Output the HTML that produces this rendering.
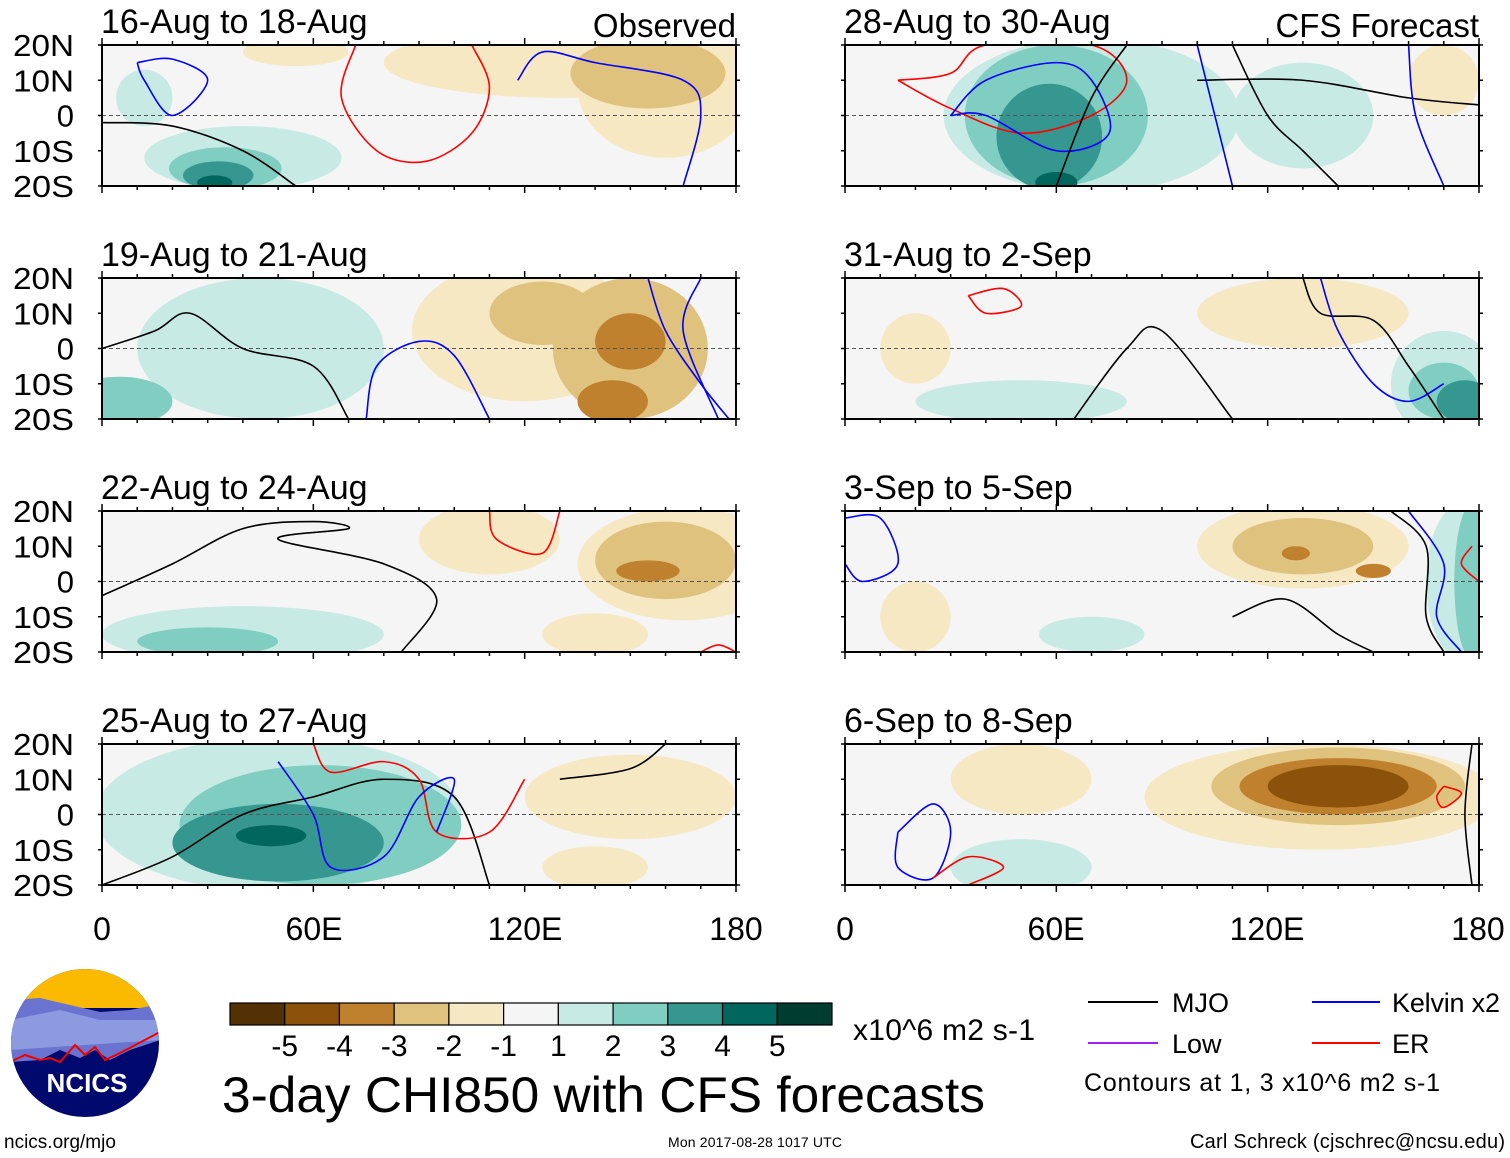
<!DOCTYPE html>
<html><head><meta charset="utf-8">
<style>
body{margin:0;background:#fff;}
svg{display:block;font-family:"Liberation Sans",Arial,sans-serif;}
</style></head>
<body>
<svg id="chart" width="1510" height="1158" viewBox="0 0 1510 1158" xmlns="http://www.w3.org/2000/svg">
<defs id="defs"></defs>
<g id="panels"></g>
<g font-size="32" text-anchor="middle">
<text x="102" y="940">0</text><text x="314" y="940">60E</text><text x="525" y="940">120E</text><text x="736" y="940">180</text>
</g>
<g font-size="32" text-anchor="middle">
<text x="845" y="940">0</text><text x="1056" y="940">60E</text><text x="1267" y="940">120E</text><text x="1478" y="940">180</text>
</g>
<g id="colorbar"></g>
<text x="853" y="1040" font-size="30" textLength="182">x10^6 m2 s-1</text>
<text x="222" y="1112" font-size="50" textLength="763" lengthAdjust="spacingAndGlyphs">3-day CHI850 with CFS forecasts</text>
<g font-size="27">
<line x1="1088" y1="1002" x2="1158" y2="1002" stroke="#000" stroke-width="2"/><text x="1172" y="1012">MJO</text>
<line x1="1312" y1="1002" x2="1380" y2="1002" stroke="#0000ff" stroke-width="2"/><text x="1392" y="1012" textLength="108">Kelvin x2</text>
<line x1="1088" y1="1043" x2="1158" y2="1043" stroke="#a020f0" stroke-width="2"/><text x="1172" y="1053">Low</text>
<line x1="1312" y1="1043" x2="1380" y2="1043" stroke="#ff0000" stroke-width="2"/><text x="1392" y="1053">ER</text>
<text x="1084" y="1091" font-size="25" textLength="356">Contours at 1, 3 x10^6 m2 s-1</text>
</g>
<g>
<clipPath id="logoclip"><circle cx="85" cy="1043" r="74"/></clipPath>
<g clip-path="url(#logoclip)">
<rect x="10" y="968" width="150" height="150" fill="#000a6e"/>
<rect x="10" y="968" width="150" height="40" fill="#fbb900"/>
<polygon points="10,1000 40,998 70,1005 100,1012 130,1010 160,1004 160,1040 130,1050 110,1060 95,1050 80,1058 60,1050 40,1060 10,1062" fill="#6a74d0"/>
<polygon points="10,1020 60,1010 100,1020 160,1020 160,1040 10,1050" fill="#8c9ae0"/>
<polyline points="10,1062 25,1055 40,1060 50,1058 60,1062 75,1045 85,1055 95,1047 105,1060 120,1053 160,1032" fill="none" stroke="#e00" stroke-width="2"/>
</g>
<text x="87" y="1092" font-size="26" font-weight="bold" fill="#fff" text-anchor="middle">NCICS</text>
</g>
<text x="4" y="1148" font-size="19">ncics.org/mjo</text>
<text x="668" y="1147" font-size="14" textLength="174">Mon 2017-08-28 1017 UTC</text>
<text x="1190" y="1148" font-size="20" textLength="315">Carl Schreck (cjschrec@ncsu.edu)</text>
</svg>
<script>
const levelColors = ["#543005","#8c510a","#bf812d","#dfc27d","#f6e8c3","#f5f5f5","#c7eae5","#80cdc1","#35978f","#01665e","#003c30"];
const levelTicks = ["-5","-4","-3","-2","-1","1","2","3","4","5"];
const panelTitles = ["16-Aug to 18-Aug","19-Aug to 21-Aug","22-Aug to 24-Aug","25-Aug to 27-Aug","28-Aug to 30-Aug","31-Aug to 2-Sep","3-Sep to 5-Sep","6-Sep to 8-Sep"];
const latTicks = [20,10,0,-10,-20];
const latLabels = ["20N","10N","0","10S","20S"];
// blobs: [lon, lat, rlon, rlat, level]
const blobs0 = [[130,15,50,10,-1],[160,8,25,20,-1],[155,12,22,10,-2],[55,18,15,4,-1],[12,5,8,8,1],[40,-12,28,9,1],[35,-15,16,6,2],[33,-17,10,4,3],[32,-19,5,2,4]];
const blobs1 = [[45,0,35,20,1],[5,-15,15,7,2],[120,5,32,20,-1],[125,10,15,9,-2],[150,0,22,20,-2],[150,2,10,8,-3],[145,-15,10,6,-3]];
const blobs2 = [[110,12,20,10,-1],[165,5,30,16,-1],[160,6,20,11,-2],[155,3,9,3,-3],[140,-15,15,6,-1],[40,-15,40,8,1],[30,-17,20,4,2]];
const blobs3 = [[150,5,30,12,-1],[140,-15,15,6,-1],[50,0,52,22,1],[62,-3,40,17,2],[50,-8,30,11,3],[48,-6,10,3,4]];
const blobs4 = [[170,10,10,10,-1],[70,0,42,22,1],[130,0,20,15,1],[60,0,26,20,2],[58,-6,15,15,3],[60,-19,6,3,4]];
const blobs5 = [[130,10,30,10,-1],[20,0,10,10,-1],[50,-15,30,6,1],[170,-10,15,15,1],[170,-12,10,8,2],[176,-15,8,6,3]];
const blobs6 = [[130,10,30,12,-1],[130,10,20,8,-2],[128,8,4,2,-3],[150,3,5,2,-3],[20,-10,10,10,-1],[70,-15,15,5,1],[175,0,10,22,1],[178,0,5,22,2]];
const blobs7 = [[50,10,20,10,-1],[135,5,50,15,-1],[140,8,36,11,-2],[140,8,28,8,-3],[140,8,20,6,-4],[50,-15,20,8,1]];
const allBlobs = [blobs0,blobs1,blobs2,blobs3,blobs4,blobs5,blobs6,blobs7];
const contours0 = [["er",[[72,20],[68,5],[78,-10],[92,-13],[105,-5],[110,8],[105,20]]],["kelvin",[[10,15],[20,16],[30,10],[20,0],[12,10],[10,15]]],["kelvin",[[118,10],[125,18],[140,15],[165,10],[170,0],[165,-20]]],["mjo",[[0,-2],[20,-3],[40,-10],[55,-20]]]];
const contours1 = [["mjo",[[0,0],[15,5],[25,10],[40,0],[60,-5],[70,-20]]],["kelvin",[[75,-20],[78,-5],[90,2],[100,-2],[110,-20]]],["kelvin",[[155,20],[160,5],[170,-10],[178,-20]]],["kelvin",[[170,20],[165,5],[175,-20]]]];
const contours2 = [["mjo",[[0,-4],[20,5],[40,15],[60,17],[70,15],[50,12],[80,5],[95,-5],[85,-20]]],["er",[[110,20],[112,12],[125,8],[130,20]]],["er",[[170,-20],[175,-18],[180,-20]]]];
const contours3 = [["mjo",[[0,-20],[20,-12],[40,0],[60,5],[80,10],[100,5],[110,-20]]],["er",[[60,20],[65,12],[80,15],[90,10],[95,-5],[110,-5],[120,10]]],["kelvin",[[50,15],[60,0],[65,-15],[80,-12],[90,5],[100,10],[95,-5]]],["mjo",[[130,10],[150,13],[160,20]]]];
const contours4 = [["er",[[15,10],[30,12],[40,20],[70,20],[80,10],[70,0],[50,-5],[30,2],[15,10]]],["kelvin",[[30,0],[40,10],[60,15],[70,10],[75,-5],[60,-10],[40,0],[30,0]]],["mjo",[[60,-20],[70,5],[80,20]]],["mjo",[[110,20],[120,0],[130,-10],[140,-20]]],["mjo",[[100,10],[130,10],[160,5],[180,3]]],["kelvin",[[100,20],[105,0],[110,-20]]],["kelvin",[[160,20],[162,0],[170,-20]]]];
const contours5 = [["er",[[35,15],[45,17],[50,12],[40,10],[35,15]]],["mjo",[[65,-20],[80,0],[90,5],[110,-20]]],["mjo",[[130,20],[135,10],[150,8],[160,-5],[170,-20]]],["kelvin",[[135,20],[140,5],[150,-10],[160,-15],[170,-10]]]];
const contours6 = [["kelvin",[[0,18],[10,18],[15,5],[5,0],[0,5]]],["mjo",[[110,-10],[125,-5],[140,-15],[150,-20]]],["mjo",[[155,20],[165,10],[165,-10],[170,-20]]],["kelvin",[[160,20],[170,5],[168,-10],[175,-20]]],["er",[[178,10],[175,5],[180,0]]]];
const contours7 = [["kelvin",[[15,-5],[25,3],[30,-5],[25,-18],[15,-15],[15,-5]]],["er",[[25,-18],[35,-12],[45,-15],[35,-20]]],["er",[[170,8],[175,6],[170,2],[168,5],[170,8]]],["mjo",[[178,20],[176,0],[178,-20]]]];
const allContours = [contours0,contours1,contours2,contours3,contours4,contours5,contours6,contours7];

const contourColors = {mjo:"#000",kelvin:"#0000ff",er:"#ff0000",low:"#a020f0"};
const NS = "http://www.w3.org/2000/svg";
const PW = 634, PH = 141;
const colX = [102,845], rowY = [45,278,511,744];
function mk(tag, attrs, parent){const e=document.createElementNS(NS,tag);for(const k in attrs)e.setAttribute(k,attrs[k]);parent.appendChild(e);return e;}
function xScale(x0,lon){return x0+lon/180*PW;}
function yScale(y0,lat){return y0+(20-lat)/40*PH;}
function smooth(pts){
  let d="M"+pts[0][0]+","+pts[0][1];
  for(let i=0;i<pts.length-1;i++){
    const p0=pts[Math.max(0,i-1)],p1=pts[i],p2=pts[i+1],p3=pts[Math.min(pts.length-1,i+2)];
    const c1=[p1[0]+(p2[0]-p0[0])/6,p1[1]+(p2[1]-p0[1])/6],c2=[p2[0]-(p3[0]-p1[0])/6,p2[1]-(p3[1]-p1[1])/6];
    d+=" C"+c1+" "+c2+" "+p2;
  }
  return d;
}
const panelsG=document.getElementById('panels');
const defs=document.getElementById('defs');
for(let p=0;p<8;p++){
  const col=p<4?0:1,row=p%4,x0=colX[col],y0=rowY[row];
  const g=mk('g',{},panelsG);
  
  
  const cp=mk('clipPath',{id:'cp'+p},defs);
  mk('rect',{x:x0,y:y0,width:PW,height:PH},cp);
  const inner=mk('g',{'clip-path':'url(#cp'+p+')'},g);
  mk('rect',{x:x0,y:y0,width:PW,height:PH,fill:"#f5f5f5"},inner);
  const bl=allBlobs[p].slice().sort((a,b)=>Math.abs(a[4])-Math.abs(b[4]));
  bl.forEach(b=>{
    const idx=b[4]+5;
    const e=mk('ellipse',{cx:xScale(x0,b[0]),cy:yScale(y0,b[1]),rx:b[2]/180*PW,ry:b[3]/40*PH,fill:levelColors[idx]},inner);
    
    
  });
  mk('line',{x1:x0,y1:yScale(y0,0),x2:x0+PW,y2:yScale(y0,0),stroke:"#555","stroke-dasharray":"4,3","stroke-width":1},inner);
  allContours[p].forEach(c=>{
    const pts=c[1].map(q=>[xScale(x0,q[0]),yScale(y0,q[1])]);
    const e=mk('path',{d:smooth(pts),fill:"none",stroke:contourColors[c[0]],"stroke-width":1.6},inner);
    
    
  });
  mk('rect',{x:x0,y:y0,width:PW,height:PH,fill:"none",stroke:"#000","stroke-width":2},g);
  for(let lon=0;lon<=180;lon+=10){
    const xx=xScale(x0,lon),len=lon%60===0?7:4;
    mk('line',{x1:xx,y1:y0,x2:xx,y2:y0-len,stroke:"#000","stroke-width":1.5},g);
    mk('line',{x1:xx,y1:y0+PH,x2:xx,y2:y0+PH+len,stroke:"#000","stroke-width":1.5},g);
  }
  latTicks.forEach((lt,i)=>{
    const yy=yScale(y0,lt);
    mk('line',{x1:x0-4,y1:yy,x2:x0,y2:yy,stroke:"#000","stroke-width":1.5},g);
    mk('line',{x1:x0+PW,y1:yy,x2:x0+PW+4,y2:yy,stroke:"#000","stroke-width":1.5},g);
    if(col===0){
      const attrs={x:74,y:yy+11,'font-size':31,'text-anchor':'end'};
      if(latLabels[i].length===3){attrs.textLength=61;attrs.lengthAdjust="spacingAndGlyphs";}
      const t=mk('text',attrs,g);t.textContent=latLabels[i];
    }
  });
  const t=mk('text',{x:x0-1,y:y0-12,'font-size':34},g);t.textContent=panelTitles[p];
  
  
  if(p===0){const s=mk('text',{x:x0+PW,y:y0-8,'font-size':33,'text-anchor':'end'},g);s.textContent="Observed";}
  if(p===4){const s=mk('text',{x:x0+PW,y:y0-8,'font-size':33,'text-anchor':'end'},g);s.textContent="CFS Forecast";}
}
const cb=document.getElementById('colorbar');
const cbx=230,cby=1003,cbw=602/11,cbh=22;
levelColors.forEach((c,i)=>{
  const r=mk('rect',{x:cbx+i*cbw,y:cby,width:cbw,height:cbh,fill:c,stroke:"#000","stroke-width":1.2},cb);
  
  
});
levelTicks.forEach((l,i)=>{
  const t=mk('text',{x:cbx+(i+1)*cbw,y:1056,'font-size':30,'text-anchor':'middle'},cb);t.textContent=l;
});
</script>
</body></html>
